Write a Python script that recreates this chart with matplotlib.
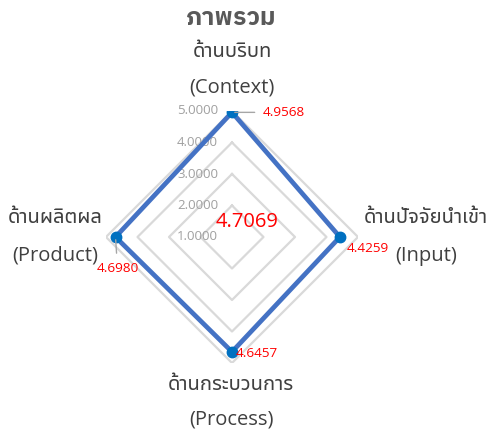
import matplotlib
matplotlib.use("Agg")
import matplotlib.pyplot as plt
import numpy as np

plt.rcParams["font.family"] = ["Noto Sans Thai UI", "Open Sans", "DejaVu Sans"]

TITLE = "ภาพรวม"
CATEGORIES_TH = ["ด้านบริบท", "ด้านปัจจัยนำเข้า", "ด้านกระบวนการ", "ด้านผลิตผล"]
CATEGORIES_EN = ["(Context)", "(Input)", "(Process)", "(Product)"]
VALUES = [4.9568, 4.4259, 4.6457, 4.6980]
OVERALL = 4.7069
RING_VALUES = [1, 2, 3, 4, 5]
R_MIN, R_MAX = 1, 5

angles = np.deg2rad([0, 90, 180, 270])
closed_angles = np.append(angles, angles[0])

fig = plt.figure(figsize=(4.89, 4.37), dpi=100)
ax = fig.add_axes([106 / 489, (437 - 363) / 437, 252 / 489, 252 / 437], projection="polar")
ax.set_theta_zero_location("N")
ax.set_theta_direction(-1)
ax.set_ylim(R_MIN, R_MAX)
ax.grid(False)
ax.set_xticks([])
ax.set_yticks([])
ax.spines["polar"].set_visible(False)
ax.patch.set_alpha(0)

# diamond gridlines
for rv in RING_VALUES[1:]:
    ax.plot(closed_angles, [rv] * 5, color="#d9d9d9", lw=1.6, zorder=1)

# scale labels along the top axis
for rv in RING_VALUES:
    ax.annotate(f"{rv:.4f}", (0, rv), xytext=(-14, 0), textcoords="offset pixels",
                ha="right", va="center", fontsize=9.5, color="#a0a0a0", zorder=2)

# data series
ax.plot(closed_angles, VALUES + VALUES[:1], color="#4472c4", lw=3.4, zorder=3)
ax.plot(angles, VALUES, "o", color="#0070c0", ms=7.5, zorder=4)

# value labels
label_offsets = [(31, 0), (7, -11), (4, -2), (2, -31)]
label_ha = ["left", "left", "left", "center"]
for ang, v, off, ha in zip(angles, VALUES, label_offsets, label_ha):
    arrow = None
    if abs(off[0]) > 20 or abs(off[1]) > 20:
        arrow = dict(arrowstyle="-", color="#a6a6a6", lw=1, shrinkA=4, shrinkB=2)
    ax.annotate(f"{v:.4f}", (ang, v), xytext=off, textcoords="offset pixels",
                ha=ha, va="center", fontsize=9.7, color="#ff0000",
                arrowprops=arrow, zorder=5)

ax.annotate(f"{OVERALL:.4f}", (0, R_MIN), xytext=(15, 15), textcoords="offset pixels",
            ha="center", va="center", fontsize=14.5, color="#ff0000", zorder=5)

# category labels
cat_offsets = [((0, 59), (0, 24)), ((68, 19), (68, -19)),
               ((-1, -22), (-1, -57)), ((-51, 19), (-51, -19))]
for ang, th, en, (o1, o2) in zip(angles, CATEGORIES_TH, CATEGORIES_EN, cat_offsets):
    ax.annotate(th, (ang, R_MAX), xytext=o1, textcoords="offset pixels",
                ha="center", va="center", fontsize=14.5, color="#404040",
                annotation_clip=False)
    ax.annotate(en, (ang, R_MAX), xytext=o2, textcoords="offset pixels",
                ha="center", va="center", fontsize=14.5, color="#404040",
                annotation_clip=False)

fig.text(231 / 489, 1 - 18 / 437, TITLE, ha="center", va="center",
         fontsize=18, fontweight="bold", color="#595959",
         family=["IBM Plex Sans Thai", "Noto Sans Thai UI"])

fig.savefig("out.png")
